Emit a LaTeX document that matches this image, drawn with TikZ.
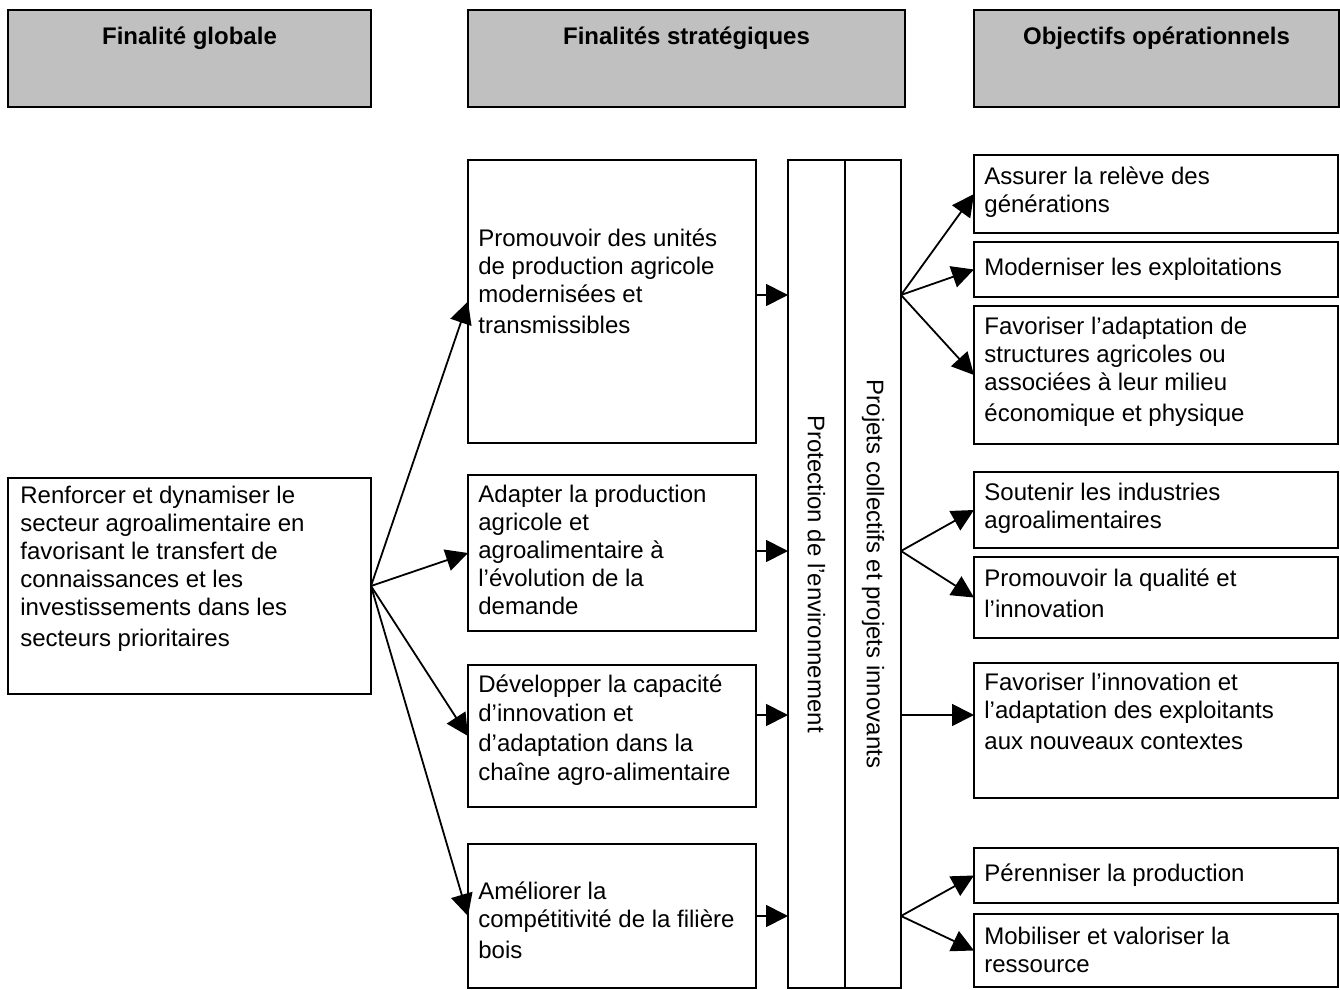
\documentclass[tikz,border=0pt]{standalone}
\usepackage{fontspec}
\setmainfont{Liberation Sans}
\usetikzlibrary{arrows.meta}
\definecolor{headgray}{HTML}{C0C0C0}
\newcommand{\bx}[6]{\node[#6, minimum width={(#4-#2)*0.5pt}, minimum height={(#5-#3)*0.5pt}] (#1) at (#2,#3) {};}
\newcommand{\tx}[4]{\node[txt] (#1) at (#2,#3) {#4};}
\begin{document}
\begin{tikzpicture}[x=0.5pt,y=-0.5pt,
  lw/.style={line width=0.9pt},
  box/.style={draw, lw, inner sep=0, outer sep=0, anchor=north west},
  head/.style={box, fill=headgray},
  txt/.style={anchor=north west, inner sep=0, align=left, font=\fontsize{12}{14}\selectfont, execute at begin node=\strut},
  htxt/.style={font=\bfseries\fontsize{12}{14}\selectfont, inner sep=0},
  vtxt/.style={rotate=-90, font=\fontsize{12}{14}\selectfont, inner sep=0},
  arr/.style={lw, -{Triangle[length=11pt,width=11pt]}}
]
\useasboundingbox (0,0) rectangle (1340,990);
% header boxes
\bx{H1}{8}{10}{371}{107}{head}
\bx{H2}{468}{10}{905}{107}{head}
\bx{H3}{974}{10}{1339}{107}{head}
\coordinate (ht) at (0,38);
\node[htxt] (h1t) at (H1.north |- ht) {Finalité globale};
\node[htxt] (h2t) at (H2.north |- ht) {Finalités stratégiques};
\node[htxt] (h3t) at (H3.north |- ht) {Objectifs opérationnels};
% boxes
\bx{L}{8}{478}{371}{694}{box}
\bx{M1}{468}{160}{756}{443}{box}
\bx{M2}{468}{475}{756}{631}{box}
\bx{M3}{468}{665}{756}{807}{box}
\bx{M4}{468}{844}{756}{988}{box}
\bx{P}{788}{160}{845}{988}{box}
\bx{Q}{845}{160}{901}{988}{box}
\bx{R1}{974}{155}{1338}{233}{box}
\bx{R2}{974}{242}{1338}{297}{box}
\bx{R3}{974}{306}{1338}{444}{box}
\bx{R4}{974}{472}{1338}{548}{box}
\bx{R5}{974}{557}{1338}{638}{box}
\bx{R6}{974}{663}{1338}{798}{box}
\bx{R7}{974}{848}{1338}{903}{box}
\bx{R8}{974}{914}{1338}{987}{box}
% texts
\tx{Lt}{20}{486}{Renforcer et dynamiser le\\secteur agroalimentaire en\\favorisant le transfert de\\connaissances et les\\investissements dans les\\[1.5pt]secteurs prioritaires}
\tx{M1t}{478}{228}{Promouvoir des unités\\de production agricole\\modernisées et\\[1.5pt]transmissibles}
\tx{M2t}{478}{485}{Adapter la production\\agricole et\\agroalimentaire à\\l’évolution de la\\demande}
\tx{M3t}{478}{674}{Développer la capacité\\[0.8pt]d’innovation et\\[0.8pt]d’adaptation dans la\\[0.8pt]chaîne agro-alimentaire}
\tx{M4t}{478}{881}{Améliorer la\\compétitivité de la filière\\[1.5pt]bois}
\tx{R1t}{984}{166}{Assurer la relève des\\générations}
\tx{R2t}{984}{255}{Moderniser les exploitations}
\tx{R3t}{984}{317}{Favoriser l’adaptation de\\structures agricoles ou\\associées à leur milieu\\[1.5pt]économique et physique}
\tx{R4t}{984}{483}{Soutenir les industries\\agroalimentaires}
\tx{R5t}{984}{568}{Promouvoir la qualité et\\[1.5pt]l’innovation}
\tx{R6t}{984}{673}{Favoriser l’innovation et\\l’adaptation des exploitants\\[1.5pt]aux nouveaux contextes}
\tx{R7t}{984}{861}{Pérenniser la production}
\tx{R8t}{984}{927}{Mobiliser et valoriser la\\ressource}
\node[vtxt] (Pt) at (P.center) {Protection de l’environnement};
\node[vtxt] (Qt) at (Q.center) {Projets collectifs et projets innovants};
% hubs
\coordinate (h1) at (901,295);
\coordinate (h2) at (901,551);
\coordinate (h3) at (901,715);
\coordinate (h4) at (901,916);
% arrows left fan
\draw[arr] (L.east) -- (M1.west);
\draw[arr] (L.east) -- (M2.west);
\draw[arr] (L.east) -- (M3.west);
\draw[arr] (L.east) -- (M4.west);
% middle to bar
\draw[arr] (M1.east |- h1) -- (P.west |- h1);
\draw[arr] (M2.east |- h2) -- (P.west |- h2);
\draw[arr] (M3.east |- h3) -- (P.west |- h3);
\draw[arr] (M4.east |- h4) -- (P.west |- h4);
% right fans
\draw[arr] (h1) -- (R1.west);
\draw[arr] (h1) -- (R2.west);
\draw[arr] (h1) -- (R3.west);
\draw[arr] (h2) -- (R4.west);
\draw[arr] (h2) -- (R5.west);
\draw[arr] (h3) -- (R6.west |- h3);
\draw[arr] (h4) -- (R7.west);
\draw[arr] (h4) -- (R8.west);
\end{tikzpicture}
\end{document}
